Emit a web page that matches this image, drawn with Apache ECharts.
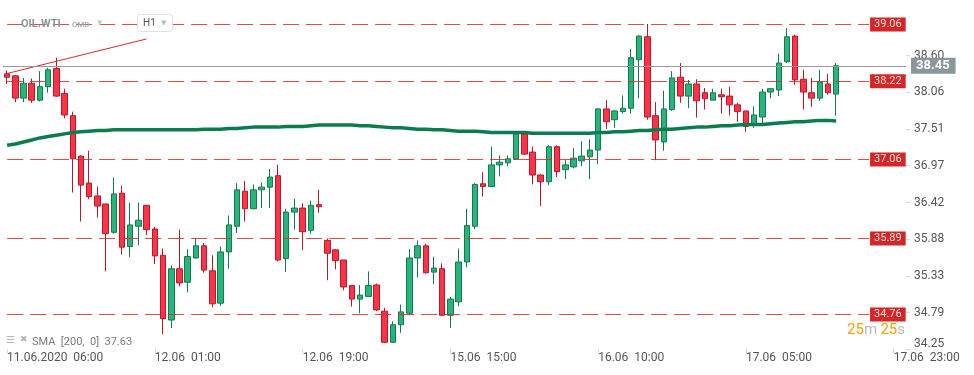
<!DOCTYPE html>
<html>
<head>
<meta charset="utf-8">
<script src="https://cdn.jsdelivr.net/npm/echarts@6/dist/echarts.min.js"></script>
<style>
html,body{margin:0;padding:0;background:#fff;}
#chart{width:974px;height:375px;}
</style>
</head>
<body>
<div id="chart"></div>
<script>
// ---- data (OIL.WTI, H1) ----
const opens  = [38.33,38.30,37.97,38.19,37.94,38.14,38.41,38.04,37.71,37.11,36.71,36.52,36.40,35.98,36.56,35.77,36.07,36.38,36.03,35.64,
                34.68,35.44,35.24,35.60,35.78,35.41,34.93,35.69,36.07,36.59,36.33,36.61,36.65,36.82,35.59,36.28,36.34,36.01,36.39,35.86,
                35.72,35.57,35.19,34.99,35.03,35.20,34.81,34.35,34.61,34.78,35.60,35.78,35.39,35.44,34.75,34.95,35.54,36.07,36.70,36.66,
                36.98,37.01,37.07,37.44,37.17,36.83,36.73,37.25,36.91,36.95,37.04,37.10,37.20,37.81,37.65,37.77,37.82,38.54,38.88,37.71,
                37.32,37.80,38.28,38.00,38.18,38.05,37.94,38.02,38.00,37.87,37.78,37.57,37.69,38.06,38.09,38.51,38.89,38.25,38.05,37.97,
                38.18,38.03];
const closes = [38.28,37.97,38.19,37.94,38.14,38.39,38.00,37.72,37.07,36.68,36.51,36.37,35.96,36.55,35.76,36.09,36.16,36.02,35.63,34.70,
                35.44,35.23,35.62,35.78,35.42,34.92,35.69,36.09,36.61,36.33,36.61,36.65,36.80,35.57,36.28,36.34,35.99,36.38,36.36,35.67,
                35.56,35.17,34.99,35.05,35.19,34.83,34.35,34.61,34.80,35.60,35.78,35.38,35.45,34.75,34.99,35.54,36.08,36.69,36.66,36.98,
                37.02,37.07,37.44,37.14,36.83,36.73,37.25,36.88,36.98,37.08,37.11,37.20,37.81,37.62,37.78,37.82,38.57,38.89,37.69,37.35,
                37.81,38.27,38.00,38.18,37.93,37.96,38.05,37.99,37.87,37.77,37.55,37.72,38.06,38.11,38.49,38.88,38.24,38.06,37.97,38.21,
                38.05,38.45];
const lows   = [38.18,37.91,37.91,37.90,37.92,38.05,37.99,37.67,36.57,36.14,36.47,36.20,35.40,35.96,35.65,35.61,35.79,35.94,35.51,34.47,
                34.56,35.18,35.09,35.59,35.38,34.87,34.89,35.44,35.97,36.14,36.32,36.34,36.34,35.55,35.39,36.02,35.72,35.96,36.27,35.27,
                35.43,35.12,34.88,34.78,35.02,34.81,34.34,34.34,34.49,34.75,35.31,35.37,35.21,34.74,34.56,34.88,35.46,36.03,36.51,36.65,
                36.81,36.96,37.05,37.13,36.69,36.37,36.68,36.80,36.77,36.93,36.96,36.77,36.99,37.51,37.53,37.74,37.74,37.97,37.65,37.05,
                37.19,37.78,37.90,37.82,37.68,37.80,37.94,37.74,37.71,37.62,37.47,37.53,37.59,37.97,38.00,38.49,38.17,37.80,37.84,37.93,
                38.02,37.71];
const highs  = [38.38,38.31,38.27,38.26,38.37,38.42,38.57,38.11,37.77,37.12,37.19,36.66,36.40,36.79,36.67,36.42,36.42,36.38,36.06,35.74,
                35.49,36.02,35.73,35.90,35.82,35.64,35.77,36.23,36.71,36.74,36.69,36.72,36.92,36.98,36.33,36.48,36.41,36.45,36.61,35.89,
                35.73,35.57,35.20,35.20,35.40,35.22,34.86,34.66,34.91,35.73,35.86,35.81,35.62,35.52,35.02,35.74,36.33,36.71,36.87,37.25,
                37.12,37.12,37.47,37.47,37.25,36.84,37.27,37.27,37.05,37.23,37.33,37.36,37.82,37.94,37.79,38.01,38.70,38.90,39.07,37.91,
                38.08,38.37,38.49,38.24,38.25,38.12,38.11,38.11,38.14,37.90,37.78,37.85,38.11,38.11,38.63,39.01,38.91,38.39,38.27,38.39,
                38.33,38.49];
const sma200 = [37.27,37.29,37.32,37.35,37.38,37.40,37.42,37.44,37.46,37.47,37.48,37.49,37.49,37.50,37.50,37.50,37.50,37.50,37.50,37.50,
                37.50,37.50,37.50,37.50,37.51,37.51,37.51,37.52,37.52,37.53,37.54,37.54,37.54,37.54,37.55,37.55,37.55,37.56,37.57,37.57,
                37.57,37.57,37.57,37.56,37.56,37.55,37.54,37.53,37.53,37.52,37.51,37.51,37.50,37.50,37.49,37.48,37.48,37.48,37.47,37.46,
                37.46,37.46,37.46,37.46,37.45,37.45,37.45,37.45,37.45,37.45,37.45,37.45,37.46,37.46,37.47,37.47,37.48,37.49,37.49,37.50,
                37.51,37.51,37.52,37.53,37.54,37.54,37.55,37.56,37.56,37.57,37.58,37.58,37.58,37.59,37.60,37.61,37.62,37.62,37.63,37.64,
                37.64,37.63];
const levels     = [39.06, 38.22, 37.06, 35.89, 34.76];
const yTickVals  = [34.25, 34.79, 35.33, 35.88, 36.42, 36.97, 37.51, 38.06, 38.60];
const lastPrice  = 38.45;
const smaLast    = 37.63;
const trendFrom  = [0, 38.335];
const trendTo    = [17, 38.848];
const levelStart = 0, levelEnd = 105;
const slotCount  = 110;

// hourly category slots (daily break 23:00, weekend Fri 22:00 - Mon 00:00)
function pad(n){ return (n < 10 ? '0' : '') + n; }
function fmt(d){ return pad(d.getUTCDate()) + '.' + pad(d.getUTCMonth()+1) + '.' + d.getUTCFullYear() + ' ' + pad(d.getUTCHours()) + ':00'; }
const categories = [];
(function(){
  let t = Date.UTC(2020, 5, 11, 6);
  while (categories.length < opens.length) {
    const d = new Date(t), h = d.getUTCHours(), w = d.getUTCDay();
    const closed = h === 23 || w === 6 || w === 0 || (w === 5 && h >= 22);
    if (!closed) categories.push(fmt(d));
    t += 3600000;
  }
  while (categories.length < slotCount) { categories.push(fmt(new Date(t))); t += 3600000; }
})();

const candleData = opens.map((o, i) => [o, closes[i], lows[i], highs[i]]);
const labelEvery = 18;
const showIdx = (i) => i % labelEvery === 0;

const FONT = 'Roboto, "Noto Sans", sans-serif';
const RED_LEVEL = '#d92b2b';
const GRID = { left: 3, right: 68, top: 0, bottom: 26 };
const TAG_GREY = '#8a969b';

const levelLines = levels.map(v => [
  { coord: [levelStart, v],
    lineStyle: { color: RED_LEVEL, width: 1, type: [16, 7], opacity: 0.85 },
    label: { show: true, position: 'end', distance: 1, formatter: v.toFixed(2),
             backgroundColor: '#cc0000', color: '#fff', fontSize: 11, fontFamily: FONT,
             padding: [2, 4, 1, 4] } },
  { coord: [levelEnd, v] }
]);
const trend = [
  { coord: trendFrom, lineStyle: { color: '#e02828', width: 1, type: 'solid' }, label: { show: false } },
  { coord: trendTo }
];

const chart = echarts.init(document.getElementById('chart'), null, { renderer: 'canvas' });
chart.setOption({
  animation: false,
  backgroundColor: '#fff',
  grid: GRID,
  xAxis: {
    type: 'category',
    data: categories,
    boundaryGap: true,
    axisLine: { show: false },
    axisTick: { show: true, alignWithLabel: true, interval: showIdx, length: 5, lineStyle: { color: '#dcdcdc' } },
    axisLabel: {
      interval: showIdx, align: 'left', margin: 3, color: '#555', fontSize: 12, fontFamily: FONT,
      formatter: (val, idx) => idx === 0 ? val.replace(' ', '  ') : val.replace('.2020', '').replace(' ', '  ')
    },
    splitLine: { show: false }
  },
  yAxis: {
    type: 'value',
    position: 'right',
    min: 34.25,
    max: 39.425,
    axisLine: { show: false },
    axisTick: { show: true, length: 4, lineStyle: { color: '#d8d8d8' }, customValues: yTickVals },
    axisLabel: {
      customValues: yTickVals, margin: 8, color: '#555', fontSize: 12, fontFamily: FONT,
      formatter: v => (Math.abs(v - yTickVals[0]) < 1e-6 ? '{lo|' + v.toFixed(2) + '}' : v.toFixed(2)),
      rich: { lo: { padding: [0, 0, 11, 0], color: '#555', fontSize: 12, fontFamily: FONT } }
    },
    splitLine: { show: false }
  },
  series: [
    {
      name: 'OIL.WTI',
      type: 'candlestick',
      data: candleData,
      barWidth: 6,
      z: 3,
      itemStyle: {
        color: '#27b57b', color0: '#ff3348',
        borderColor: '#137a4f', borderColor0: '#b5192c', borderWidth: 1
      },
      markLine: {
        silent: true, animation: false, symbol: 'none', precision: 2,
        data: levelLines.concat([trend])
      }
    },
    {
      name: 'SMA',
      type: 'line',
      data: sma200,
      showSymbol: false,
      symbol: 'none',
      z: 4,
      lineStyle: { color: '#0b7c4e', width: 3.5 },
      markLine: {
        silent: true, animation: false, symbol: 'none',
        data: [{ yAxis: lastPrice,
                 lineStyle: { color: '#979b9e', width: 1, type: 'solid' },
                 label: { show: true, position: 'end', distance: 5, formatter: lastPrice.toFixed(2),
                          backgroundColor: TAG_GREY, color: '#fff', fontWeight: 'bold', fontSize: 13,
                          fontFamily: FONT, padding: [2, 6, 1, 5] } }]
      }
    }
  ],
  graphic: [
    { type: 'text', x: 21, y: 24, z: 10, style: { text: 'OIL.WTI', fill: '#4b535b', font: 'bold 11px ' + FONT, textVerticalAlign: 'middle' } },
    { type: 'text', x: 72, y: 25, z: 10, style: { text: 'CMD', fill: '#aab0b6', font: 'bold 8px ' + FONT, textVerticalAlign: 'middle' } },
    { type: 'text', x: 97, y: 23, z: 10, style: { text: '▼', fill: '#c8cbce', font: '7px "DejaVu Sans"', textVerticalAlign: 'middle' } },
    { type: 'rect', z: 10, shape: { x: 137.5, y: 14.5, width: 35, height: 17, r: 3 }, style: { fill: '#fff', stroke: '#e2e2e2', lineWidth: 1 } },
    { type: 'text', x: 143, y: 23, z: 11, style: { text: 'H1', fill: '#555', font: '10px ' + FONT, textVerticalAlign: 'middle' } },
    { type: 'text', x: 161, y: 23, z: 11, style: { text: '▼', fill: '#b8bcc0', font: '7px "DejaVu Sans"', textVerticalAlign: 'middle' } },
    { type: 'text', x: 6, y: 340, z: 10, style: { text: '☰', fill: '#b5b5b5', font: '10px "DejaVu Sans"', textVerticalAlign: 'middle' } },
    { type: 'text', x: 20, y: 340, z: 10, style: { text: '✖', fill: '#b5b5b5', font: '9px "DejaVu Sans"', textVerticalAlign: 'middle' } },
    { type: 'text', x: 32, y: 342, z: 10, style: { text: 'SMA  [200,  0]  ' + smaLast.toFixed(2), fill: '#7a7a7a', font: '11px ' + FONT, textVerticalAlign: 'middle' } },
    { type: 'text', x: 905, y: 330, z: 10, style: {
        text: '{o|25}{g|m} {o|25}{g|s}', textAlign: 'right', textVerticalAlign: 'middle',
        rich: { o: { fill: '#f5a202', font: '15px ' + FONT }, g: { fill: '#b9b9b9', font: '15px ' + FONT } } } }
  ]
});

// pointer of the last-price tag, placed from the axis scale
(function(){
  const py = chart.convertToPixel({ yAxisIndex: 0 }, lastPrice);
  const px = 974 - GRID.right;
  chart.setOption({ graphic: [{
    type: 'polygon', z: 20,
    shape: { points: [[px - 3, py], [px + 6, py - 8], [px + 6, py + 8]] },
    style: { fill: TAG_GREY }
  }] });
})();
</script>
</body>
</html>
